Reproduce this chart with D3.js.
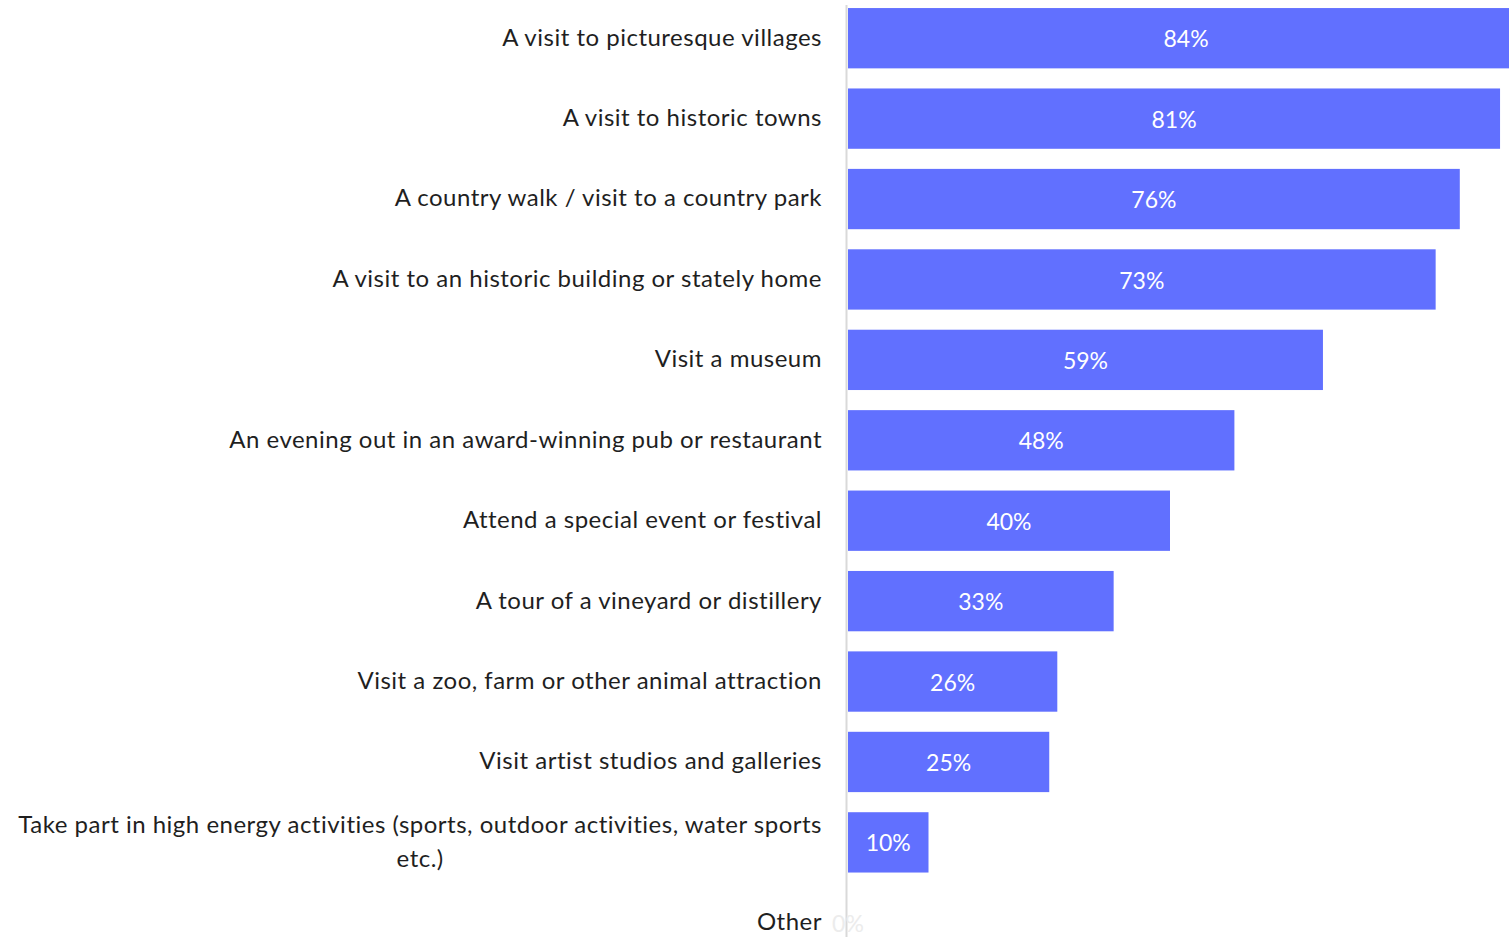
<!DOCTYPE html>
<html>
<head>
<meta charset="utf-8">
<script src="https://cdn.jsdelivr.net/npm/d3@7/dist/d3.min.js"></script>
<style>
  html, body { margin: 0; padding: 0; background: #fff; overflow: hidden; }
  svg { display: block; }
  text { font-family: Lato, "Open Sans", sans-serif; }
</style>
</head>
<body>
<svg id="chart" width="1509" height="937"></svg>
<script>
// Activities and share of respondents interested in each (%)
const activities = [
  "A visit to picturesque villages",
  "A visit to historic towns",
  "A country walk / visit to a country park",
  "A visit to an historic building or stately home",
  "Visit a museum",
  "An evening out in an award-winning pub or restaurant",
  "Attend a special event or festival",
  "A tour of a vineyard or distillery",
  "Visit a zoo, farm or other animal attraction",
  "Visit artist studios and galleries",
  "Take part in high energy activities (sports, outdoor activities, water sports|etc.)",
  "Other"
];
const shares = [84, 81, 76, 73, 59, 48, 40, 33, 26, 25, 10, 0];

const width = 1509, height = 937;
const x0 = 848;
const svg = d3.select("#chart");

const x = d3.scaleLinear().domain([0, 100]).range([x0, x0 + 805]);
const y = d3.scaleBand()
  .domain(activities)
  .range([-2, 963])
  .paddingInner(0.25)
  .paddingOuter(0.125);

const rows = activities.map((a, i) => ({ label: a, value: shares[i] }));

// bars
svg.append("g").selectAll("rect")
  .data(rows)
  .join("rect")
  .attr("x", x(0))
  .attr("y", d => y(d.label))
  .attr("width", d => x(d.value) - x(0))
  .attr("height", y.bandwidth())
  .attr("fill", "#6170ff");

// vertical category axis line
svg.append("line")
  .attr("x1", 846.5).attr("x2", 846.5)
  .attr("y1", 5).attr("y2", height)
  .attr("stroke", "#d9d9d9")
  .attr("stroke-width", 2);

// category labels
const labelX = 822;
const lab = svg.append("g")
  .attr("font-size", 24)
  .attr("letter-spacing", "0.5px")
  .attr("fill", "#1f1f1f");

rows.forEach(d => {
  const cy = y(d.label) + y.bandwidth() / 2;
  const parts = d.label.split("|");
  if (parts.length === 1) {
    lab.append("text")
      .attr("x", labelX).attr("y", cy - 1)
      .attr("dy", "0.35em")
      .attr("text-anchor", "end")
      .text(parts[0]);
  } else {
    const first = lab.append("text")
      .attr("x", labelX).attr("y", cy - 18)
      .attr("dy", "0.35em")
      .attr("text-anchor", "end")
      .text(parts[0]);
    const w = first.node().getComputedTextLength();
    lab.append("text")
      .attr("x", labelX - w / 2).attr("y", cy + 16)
      .attr("dy", "0.35em")
      .attr("text-anchor", "middle")
      .text(parts[1]);
  }
});

// value labels centred in each bar
svg.append("g").selectAll("text")
  .data(rows)
  .join("text")
  .attr("x", d => (x(0) + x(d.value)) / 2)
  .attr("y", d => y(d.label) + y.bandwidth() / 2 + 1)
  .attr("dy", "0.35em")
  .attr("text-anchor", "middle")
  .attr("font-size", 23)
  .attr("fill", d => d.value > 0 ? "#ffffff" : "#ececec")
  .text(d => d.value + "%");
</script>
</body>
</html>
